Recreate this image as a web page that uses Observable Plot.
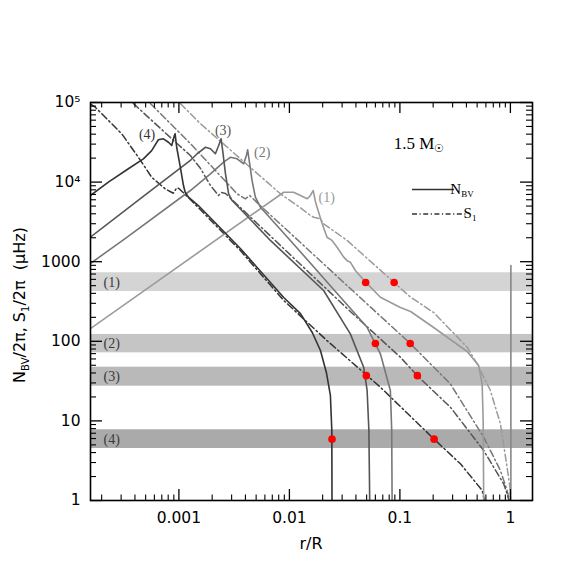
<!DOCTYPE html>
<html><head><meta charset="utf-8">
<script src="https://cdn.jsdelivr.net/npm/d3@7"></script>
<script src="https://cdn.jsdelivr.net/npm/@observablehq/plot@0.6"></script>
<style>html,body{margin:0;padding:0;background:#fff;}</style>
</head><body><div id="chart"></div>
<script>
// ---- data (x = r/R, y = frequency in µHz) ----
const model1N = [[1.58e-4,144],[8.88e-3,7460],[1.09e-2,7460],[1.26e-2,6790],[1.45e-2,6170],[1.55e-2,6790],[1.64e-2,7840],[1.72e-2,5700],[1.78e-2,4840],[1.98e-2,2990],[2.19e-2,2030],[2.43e-2,1850],[2.70e-2,1520],[3.10e-2,1140],[3.33e-2,1030],[3.56e-2,986],[3.95e-2,775],[4.90e-2,553],[6.66e-2,358],[0.101,266],[0.125,237],[0.202,149],[0.406,74.5],[0.516,49.7],[0.555,29.2],[0.567,10.1],[0.573,1]];
const model1Surface = [[1.01,1],[1.01,896]];
const model1S = [[1.03e-3,97000],[1.57e-3,54000],[8.29e-3,7130],[1.26e-2,4750],[1.55e-2,3800],[1.66e-2,3620],[1.91e-2,3460],[2.04e-2,2990],[3.33e-2,1850],[8.87e-2,548],[0.125,358],[0.202,230],[0.406,84.3],[0.500,52.1],[0.659,24.1],[0.812,9.2],[0.933,2.62],[1.0,1.34],[1.006,1]];

const model2N = [[1.58e-4,949],[3.26e-4,1950],[1.27e-3,7840],[1.93e-3,12700],[2.54e-3,17800],[2.92e-3,20500],[3.36e-3,19600],[3.86e-3,17000],[4.08e-3,21600],[4.19e-3,25400],[4.37e-3,17000],[4.59e-3,10500],[4.92e-3,6460],[5.47e-3,4840],[1.02e-2,1850],[2.90e-2,358],[5.05e-2,150],[6.66e-2,69.6],[8.20e-2,24.1],[8.43e-2,7.57],[8.50e-2,1]];
const model2S = [[5.52e-4,97000],[1.27e-3,30500],[3.36e-3,7130],[4.00e-3,6170],[4.37e-3,6790],[5.47e-3,5040],[1.26e-2,1740],[3.56e-2,460],[0.101,122],[0.124,93.8],[0.286,29.2],[0.573,6.24],[0.812,2.38],[0.933,1.34],[0.979,1]];

const model3N = [[1.58e-4,2030],[4.48e-4,6180],[1.27e-3,18700],[1.46e-3,22700],[1.74e-3,27400],[1.93e-3,26200],[2.14e-3,22700],[2.29e-3,28800],[2.41e-3,35000],[2.49e-3,24900],[2.64e-3,12700],[2.82e-3,7130],[3.03e-3,5870],[4.44e-3,3390],[6.73e-3,1850],[2.04e-2,435],[3.56e-2,124],[4.70e-2,47.3],[5.05e-2,24.1],[5.24e-2,7.57],[5.33e-2,1]];
const model3S = [[3.87e-4,97000],[8.97e-4,33300],[1.27e-3,21600],[1.57e-3,14800],[1.93e-3,9060],[2.28e-3,6790],[2.43e-3,7400],[2.64e-3,7200],[8.29e-3,1600],[3.56e-2,237],[0.101,63.1],[0.143,37.2],[0.286,14.9],[0.573,4.25],[0.869,1.62],[0.933,1.22],[0.969,1]];

const model4N = [[1.58e-4,6790],[2.30e-4,9980],[3.49e-4,14700],[4.77e-4,19600],[5.67e-4,24900],[6.52e-4,34000],[7.24e-4,35000],[8.04e-4,31700],[8.61e-4,28800],[9.10e-4,38500],[9.24e-4,40400],[9.55e-4,27400],[1.03e-3,15400],[1.10e-3,9060],[1.14e-3,7460],[1.22e-3,6460],[1.50e-3,5080],[3.60e-3,1465],[8.88e-3,355],[1.26e-2,223],[1.61e-2,129],[1.91e-2,76.6],[2.16e-2,40.6],[2.35e-2,20.9],[2.42e-2,7.57],[2.43e-2,1]];
const model4S = [[1.6e-4,95000],[1.75e-4,87300],[3.04e-4,40400],[4.30e-4,20500],[5.67e-4,11500],[7.50e-4,8240],[8.91e-4,7250],[9.55e-4,8480],[1.0e-3,8310],[1.27e-3,6040],[3.60e-3,1380],[8.88e-3,326],[2.19e-2,102],[6.66e-2,26.5],[0.204,5.89],[0.353,2.89],[0.555,1.34],[0.582,1]];

const bandNames = ["(1)","(2)","(3)","(4)"];
const bandLow  = [422, 71.6, 27.3, 4.5];
const bandHigh = [726, 122, 47.3, 7.73];

const dotX = [0.049, 0.0887, 0.060, 0.124, 0.0497, 0.144, 0.0243, 0.204];
const dotY = [548, 548, 93.8, 93.8, 37, 37, 5.9, 5.9];

const xTicks = [0.001, 0.01, 0.1, 1];
const xTickLabels = ["0.001", "0.01", "0.1", "1"];
const yTicks = [1, 10, 100, 1000, 1e4, 1e5];
const yTickLabels = ["1", "10", "100", "1000", "10\u2074", "10\u2075"];

// ---- styling ----
const colors = ["#9a9a9a", "#777777", "#555555", "#333333"];
const bandFill = ["#d4d4d4", "#c5c5c5", "#b9b9b9", "#aaaaaa"];
const dash = "7,3,1.5,3";
const W = 581, H = 581, mL = 90, mR = 49, mT = 102, mB = 81;
const iw = W - mL - mR, ih = H - mT - mB;

const xMinor = [], yMinor = [];
for (let e = -4; e <= 0; e++) for (let k = 2; k <= 9; k++) { const v = k * 10 ** e; if (v > 10 ** -3.8 && v < 10 ** 0.2) xMinor.push(v); }
for (let e = 0; e <= 4; e++) for (let k = 2; k <= 9; k++) yMinor.push(k * 10 ** e);

const bands = bandNames.map((n, i) => ({name: n, lo: bandLow[i], hi: bandHigh[i], fill: bandFill[i]}));
const dots = dotX.map((x, i) => ({x, y: dotY[i]}));
const models = [
  {N: model1N, S: model1S, label: "(1)", c: colors[0], dx: 13.5, dy: 7.5},
  {N: model2N, S: model2S, label: "(2)", c: colors[1], dx: 14.5, dy: 3},
  {N: model3N, S: model3S, label: "(3)", c: colors[2], dx: 2, dy: -8},
  {N: model4N, S: model4S, label: "(4)", c: colors[3], dx: -28, dy: 1}
];
const serif = "Liberation Serif";
const sans = "DejaVu Sans";

const marks = [
  Plot.rect(bands, {y1: "lo", y2: "hi", fill: "fill"}),
  Plot.text(bands, {frameAnchor: "left", y: d => Math.sqrt(d.lo * d.hi), text: "name", dx: 13, textAnchor: "start", fill: "#3a3a3a", fontFamily: serif, fontSize: 14})
];
for (const m of models) {
  marks.push(Plot.line(m.S, {x: d => d[0], y: d => d[1], stroke: m.c, strokeWidth: 1.5, strokeDasharray: dash, clip: true}));
}
for (const m of models) {
  marks.push(Plot.line(m.N, {x: d => d[0], y: d => d[1], stroke: m.c, strokeWidth: 1.6, clip: true}));
  const peak = d3.greatest(m.N, d => d[1]);
  marks.push(Plot.text([peak], {x: d => d[0], y: d => d[1], text: () => m.label, dx: m.dx, dy: m.dy, fill: m.c, fontFamily: serif, fontSize: 14}));
}
marks.push(Plot.line(model1Surface, {x: d => d[0], y: d => d[1], stroke: "#888", strokeWidth: 1.6, clip: true}));
marks.push(Plot.dot(dots, {x: "x", y: "y", r: 3.8, fill: "#ff0000", stroke: "none"}));
// inward ticks on all four sides
const tk = (len) => ih - len, tkw = (len) => iw - len;
marks.push(
  Plot.ruleX(xTicks, {x: d => d, insetTop: tk(11), stroke: "black", strokeWidth: 1.3}),
  Plot.ruleX(xTicks, {x: d => d, insetBottom: tk(11), stroke: "black", strokeWidth: 1.3}),
  Plot.ruleX(xMinor, {x: d => d, insetTop: tk(5.5), stroke: "black", strokeWidth: 1.1}),
  Plot.ruleX(xMinor, {x: d => d, insetBottom: tk(5.5), stroke: "black", strokeWidth: 1.1}),
  Plot.ruleY(yTicks, {y: d => d, insetRight: tkw(12), stroke: "black", strokeWidth: 1.3}),
  Plot.ruleY(yTicks, {y: d => d, insetLeft: tkw(12), stroke: "black", strokeWidth: 1.3}),
  Plot.ruleY(yMinor, {y: d => d, insetRight: tkw(6), stroke: "black", strokeWidth: 1.1}),
  Plot.ruleY(yMinor, {y: d => d, insetLeft: tkw(6), stroke: "black", strokeWidth: 1.1}),
  Plot.frame({stroke: "black", strokeWidth: 1.6}),
  Plot.axisX(xTicks, {tickSize: 0, tickPadding: 11, tickFormat: d => xTickLabels[xTicks.indexOf(d)], label: null}),
  Plot.axisY(yTicks, {tickSize: 0, tickPadding: 10, tickFormat: d => yTickLabels[yTicks.indexOf(d)], label: null})
);

const chart = Plot.plot({
  width: W, height: H,
  marginLeft: mL, marginRight: mR, marginTop: mT, marginBottom: mB,
  x: {type: "log", domain: [10 ** -3.8, 10 ** 0.2]},
  y: {type: "log", domain: [1, 1e5]},
  style: {fontFamily: sans, fontSize: "15.5px", color: "black", background: "white"},
  marks
});
document.getElementById("chart").appendChild(chart);

// ---- titles and legend ----
const svg = d3.select(chart);
const yt = svg.append("text").attr("transform", "translate(25,305) rotate(-90)")
  .attr("text-anchor", "middle").attr("font-family", sans).attr("font-size", 16).attr("fill", "black");
yt.append("tspan").text("N");
yt.append("tspan").attr("font-size", 10).attr("dy", 4).text("BV");
yt.append("tspan").attr("dy", -4).text("/2\u03c0, S");
yt.append("tspan").attr("font-size", 10).attr("dy", 4).text("1");
yt.append("tspan").attr("dy", -4).text("/2\u03c0  (\u03bcHz)");

svg.append("text").attr("x", (mL + W - mR) / 2).attr("y", 549).attr("text-anchor", "middle")
  .attr("font-family", sans).attr("font-size", 16).text("r/R");

const mt = svg.append("text").attr("x", 419).attr("y", 149).attr("font-family", serif).attr("font-size", 17);
mt.append("tspan").text("1.5 M");
mt.append("tspan").attr("font-size", 11).attr("dy", 3).text("\u2609");

svg.append("line").attr("x1", 412).attr("x2", 454).attr("y1", 189.5).attr("y2", 189.5).attr("stroke", "#333").attr("stroke-width", 1.5);
const ln = svg.append("text").attr("x", 462).attr("y", 194).attr("font-family", serif).attr("font-size", 15);
ln.append("tspan").text("N");
ln.append("tspan").attr("font-size", 9).attr("dy", 3).text("BV");
svg.append("line").attr("x1", 412).attr("x2", 467).attr("y1", 214).attr("y2", 214).attr("stroke", "#333").attr("stroke-width", 1.3).attr("stroke-dasharray", "5,2.5,1.2,2.5");
const ls = svg.append("text").attr("x", 470).attr("y", 218).attr("font-family", serif).attr("font-size", 15);
ls.append("tspan").text("S");
ls.append("tspan").attr("font-size", 9).attr("dy", 3).text("1");
</script></body></html>
